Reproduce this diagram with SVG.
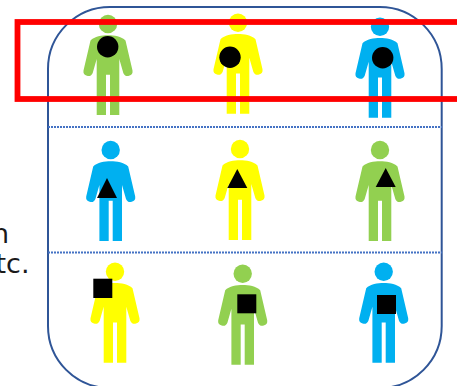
<svg xmlns="http://www.w3.org/2000/svg" width="457" height="386" viewBox="0 0 457 386">
<style>
.frame{fill:none;stroke:#2f5597;stroke-width:2}
.div{stroke:#4472c4;stroke-width:2;stroke-dasharray:2 1}
.hl{fill:none;stroke:#ff0000;stroke-width:5.8}
.g{fill:#92d050}.y{fill:#ffff00}.b{fill:#00b0f0}
.t{font-family:"DejaVu Sans",sans-serif;font-size:27px;fill:#1a1a1a}
</style>
<defs>
<g id="person">
<circle cx="0" cy="0" r="9.200"/>
<path d="M0,11.300C6,11.300 13.500,12.500 17.500,16.500L24.500,46.500A4.800,4.800 0 0 1 15.300,49L11.300,35V91H2V50.700H-2V91H-11.300V35L-15.300,49A4.800,4.800 0 0 1 -24.500,46.500L-17.500,16.500C-13.500,12.500 -6,11.300 0,11.300Z"/>
</g>
</defs>
<rect width="457" height="386" fill="#fff"/>
<rect class="frame" x="48" y="7" width="393.700" height="381" rx="62" ry="62"/>
<g id="connectors">
<line class="div" x1="48" y1="127" x2="442" y2="127"/>
<line class="div" x1="48" y1="252.500" x2="442" y2="252.500"/>
</g>
<g id="p1"><use href="#person" class="g" x="108" y="24"/><circle cx="107.700" cy="46.700" r="10.700"/></g>
<g id="p2"><use href="#person" class="y" x="238" y="22.700"/><circle cx="230" cy="57.300" r="10.700"/></g>
<g id="p3"><use href="#person" class="b" x="380" y="26.700"/><circle cx="382.700" cy="57.700" r="10.700"/></g>
<g id="p4"><use href="#person" class="b" x="110.700" y="150"/><path d="M107,178L117,198H97Z"/></g>
<g id="p5"><use href="#person" class="y" x="240" y="149"/><path d="M237.300,169L247.300,188H227.300Z"/></g>
<g id="p6"><use href="#person" class="g" x="380" y="150"/><path d="M385.700,168L395.700,187H375.700Z"/></g>
<g id="p7"><use href="#person" class="y" x="115" y="271.700"/><rect x="93.300" y="278.700" width="19" height="19.300"/></g>
<g id="p8"><use href="#person" class="g" x="242.700" y="273.700"/><rect x="237.300" y="294.300" width="19" height="19"/></g>
<g id="p9"><use href="#person" class="b" x="383.700" y="271.700"/><rect x="377" y="295" width="19" height="19"/></g>
<rect id="highlight" class="hl" x="17.500" y="22" width="460" height="77"/>
<text class="t" x="9" y="243" text-anchor="end">n</text>
<text class="t" x="29.500" y="273" text-anchor="end">tc.</text>
</svg>
